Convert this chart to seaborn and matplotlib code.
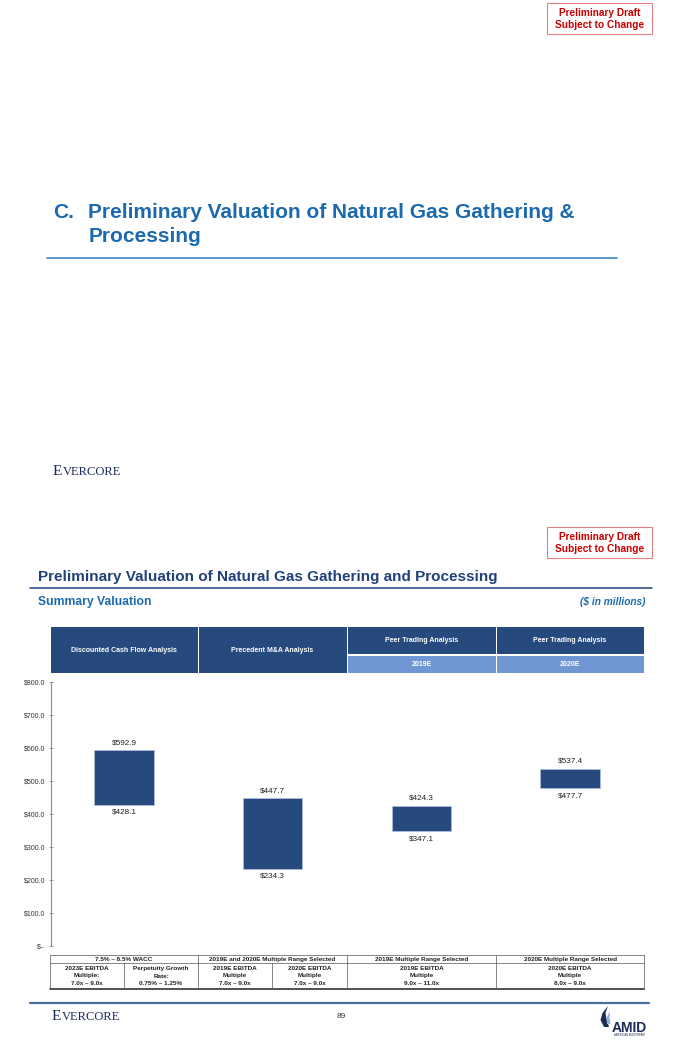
import matplotlib
matplotlib.use('Agg')
import matplotlib.pyplot as plt
from matplotlib import font_manager
from matplotlib.patches import Rectangle, Polygon
import pandas as pd
import seaborn as sns

# values ($ in millions)
methods = ['DCF', 'Precedent M&A', 'Peer 2019E', 'Peer 2020E']
low = [428.1, 234.3, 347.1, 477.7]
high = [592.9, 447.7, 424.3, 537.4]

head_top = ['Discounted Cash Flow Analysis', 'Precedent M&A Analysis',
            'Peer Trading Analysis', 'Peer Trading Analysis']
head_sub = [None, None, '2019E', '2020E']

y_ticks = [0, 100, 200, 300, 400, 500, 600, 700, 800]
y_ticklabels = ['$–', '$100.0', '$200.0', '$300.0', '$400.0',
                '$500.0', '$600.0', '$700.0', '$800.0']

range_heads = ['7.5% – 8.5% WACC', '2019E and 2020E Multiple Range Selected',
               '2019E Multiple Range Selected', '2020E Multiple Range Selected']
range_cells = [
    ['2023E EBITDA', 'Multiple:', '7.0x – 9.0x'],
    ['Perpetuity Growth', 'Rate:', '0.75% – 1.25%'],
    ['2019E EBITDA', 'Multiple', '7.0x – 9.0x'],
    ['2020E EBITDA', 'Multiple', '7.0x – 9.0x'],
    ['2019E EBITDA', 'Multiple', '9.0x – 11.0x'],
    ['2020E EBITDA', 'Multiple', '8.0x – 9.0x'],
]

W, H = 680, 1049
COLS = [50, 198, 347, 496, 644]          # column edges (px)
SUBCOLS = [50, 124, 198, 272, 347, 496, 644]
NAVY = '#264a7e'
LIGHT = '#6f97d3'
BLUE = '#1c6aae'
DARK = '#22417a'
RED = '#cc0000'
LOGO = '#1c2b5a'

sns.set_style('white')
names = {f.name for f in font_manager.fontManager.ttflist}
NARROW = 'Liberation Sans Narrow' if 'Liberation Sans Narrow' in names else 'Liberation Sans'
plt.rcParams['font.family'] = ['Liberation Sans', 'DejaVu Sans']

fig = plt.figure(figsize=(W / 100, H / 100), dpi=100)

# full-page layer in pixel coordinates
bg = fig.add_axes([0, 0, 1, 1], zorder=0)
bg.set_xlim(0, W)
bg.set_ylim(H, 0)
bg.axis('off')


def draft_box(y0):
    bg.add_patch(Rectangle((547, y0), 105, 31, fill=False, ec='#e57f7f', lw=0.8))
    bg.text(599.5, y0 + 9.5, 'Preliminary Draft', ha='center', va='center',
            color=RED, fontsize=7.3, fontweight='bold', family=NARROW)
    bg.text(599.5, y0 + 21.5, 'Subject to Change', ha='center', va='center',
            color=RED, fontsize=7.3, fontweight='bold', family=NARROW)


def evercore(x, y):
    e = bg.text(x, y, 'E', ha='left', va='bottom', color=LOGO,
                fontsize=11, family='Liberation Serif')
    bg.annotate('VERCORE', xy=(1, 0), xycoords=e, ha='left', va='bottom',
                color=LOGO, fontsize=9, family='Liberation Serif')


# ---- page 1: section divider ----
draft_box(3)
bg.text(53, 213, 'C.', ha='left', va='center', color=BLUE, fontsize=15,
        fontweight='bold', family=NARROW)
bg.text(88.5, 213, 'Preliminary Valuation of Natural Gas Gathering &', ha='left',
        va='center', color=BLUE, fontsize=15, fontweight='bold', family=NARROW)
bg.text(88.5, 237, 'Processing', ha='left', va='center', color=BLUE, fontsize=15,
        fontweight='bold', family=NARROW)
bg.plot([47, 617], [258, 258], color='#3a88cc', lw=1.2)
evercore(53, 478)

# ---- page 2: summary valuation ----
draft_box(527)
bg.text(38, 577, 'Preliminary Valuation of Natural Gas Gathering and Processing',
        ha='left', va='center', color=DARK, fontsize=11, fontweight='bold')
bg.plot([30, 652], [588, 588], color=DARK, lw=1.1)
bg.text(38, 602, 'Summary Valuation', ha='left', va='center', color=BLUE,
        fontsize=8.7, fontweight='bold', family=NARROW)
bg.text(645, 602, '($ in millions)', ha='right', va='center', color=BLUE,
        fontsize=7.3, fontweight='bold', style='italic', family=NARROW)

# header blocks above the chart
for i, (top, sub) in enumerate(zip(head_top, head_sub)):
    x0, x1 = COLS[i] + 0.5, COLS[i + 1] - 0.5
    if sub is None:
        bg.add_patch(Rectangle((x0, 627), x1 - x0, 46, color=NAVY, lw=0))
        bg.text((x0 + x1) / 2, 650, top, ha='center', va='center', color='white',
                fontsize=5, fontweight='bold')
    else:
        bg.add_patch(Rectangle((x0, 627), x1 - x0, 27, color=NAVY, lw=0))
        bg.add_patch(Rectangle((x0, 655.5), x1 - x0, 17.5, color=LIGHT, lw=0))
        bg.text((x0 + x1) / 2, 641, top, ha='center', va='center', color='white',
                fontsize=5, fontweight='bold')
        bg.text((x0 + x1) / 2, 664.5, sub, ha='center', va='center', color='white',
                fontsize=5, fontweight='bold')

# ---- floating bar chart ----
ax_left, ax_right, ax_top, ax_bottom = 51, 644, 682, 946
ax = fig.add_axes([ax_left / W, 1 - ax_bottom / H, (ax_right - ax_left) / W,
                   (ax_bottom - ax_top) / H], zorder=1)
ax.patch.set_alpha(0)

df = pd.DataFrame({'method': methods, 'low': low, 'high': high})
df['span'] = df['high'] - df['low']
sns.barplot(data=df, x='method', y='span', bottom=df['low'].to_numpy(), color=NAVY,
            saturation=1, width=0.4, errorbar=None, edgecolor='#a9bcda',
            linewidth=0.6, ax=ax)

for bar, lo, hi in zip(ax.patches, low, high):
    cx = bar.get_x() + bar.get_width() / 2
    ax.annotate(f'${hi:.1f}', (cx, hi), xytext=(0, 3), textcoords='offset points',
                ha='center', va='bottom', fontsize=5.9, family=NARROW, color='#222222')
    ax.annotate(f'${lo:.1f}', (cx, lo), xytext=(0, -3), textcoords='offset points',
                ha='center', va='top', fontsize=5.9, family=NARROW, color='#222222')

centers = [(COLS[i] + COLS[i + 1]) / 2 for i in range(4)]
step = (centers[-1] - centers[0]) / 3
ax.set_xlim((ax_left - centers[0]) / step, (ax_right - centers[0]) / step)
ax.set_ylim(0, 800)
ax.set_yticks(y_ticks)
ax.set_yticklabels(y_ticklabels, fontsize=5, family=NARROW, color='#333333')
ax.set_xticks([])
ax.set_xlabel('')
ax.set_ylabel('')
for side in ['top', 'right', 'bottom']:
    ax.spines[side].set_visible(False)
ax.spines['left'].set_color('#8c8c8c')
ax.spines['left'].set_linewidth(0.8)
ax.tick_params(axis='y', direction='inout', length=2.5, width=0.6, color='#8c8c8c',
               pad=3, left=True)

# ---- methodology table below the chart ----
t_top, t_mid, t_bot = 955, 963, 989
tkw = dict(ha='center', va='center', fontsize=4.6, fontweight='bold',
           family=NARROW, color='#222222')
bg.plot([COLS[0], COLS[-1]], [t_top, t_top], color='#555555', lw=0.5)
bg.plot([COLS[0], COLS[-1]], [t_mid, t_mid], color='#555555', lw=0.5)
bg.plot([COLS[0], COLS[-1]], [t_bot, t_bot], color='#333333', lw=1.2)
for x in COLS:
    bg.plot([x, x], [t_top, t_bot], color='#555555', lw=0.5)
for x in [SUBCOLS[1], SUBCOLS[3]]:
    bg.plot([x, x], [t_mid, t_bot], color='#555555', lw=0.5)
for i, txt in enumerate(range_heads):
    bg.text((COLS[i] + COLS[i + 1]) / 2, 959.2, txt, **tkw)
for j, lines in enumerate(range_cells):
    cx = (SUBCOLS[j] + SUBCOLS[j + 1]) / 2
    for k, txt in enumerate(lines):
        bg.text(cx, 968.5 + 7.5 * k, txt, **tkw)

# ---- footer ----
bg.plot([30, 649], [1003, 1003], color='#4d6c9f', lw=1.6)
evercore(52, 1023)
bg.text(341, 1017, '89', ha='center', va='center', fontsize=6, family=NARROW,
        color='#333333')
bg.add_patch(Polygon([(604, 1027), (600.5, 1020), (602.5, 1013), (608, 1006),
                      (605.5, 1013), (606.5, 1019), (609, 1027)], color=LOGO, lw=0))
bg.add_patch(Polygon([(607, 1024), (606.5, 1018), (610, 1011), (609.5, 1018),
                      (610.5, 1024)], color='#8fb0d8', lw=0))
bg.text(629, 1028, 'AMID', ha='center', va='center', fontsize=10,
        fontweight='bold', color=LOGO)
bg.text(629, 1035, 'AMERICAN MIDSTREAM', ha='center', va='center', fontsize=1.9,
        color=LOGO)

fig.savefig('out.png', dpi=100)
